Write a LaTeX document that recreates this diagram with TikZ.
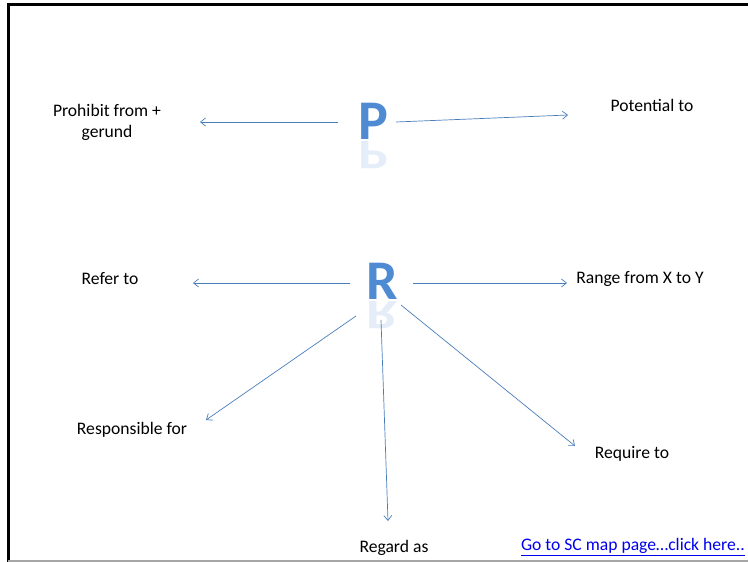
\documentclass[tikz,border=0pt]{standalone}
\usepackage{fontspec}
\setmainfont{Carlito}
\usetikzlibrary{arrows.meta}
\definecolor{arrblue}{RGB}{74,126,187}
\definecolor{letblue}{RGB}{79,139,210}
\definecolor{linkblue}{RGB}{0,0,238}
\tikzset{
  lbl/.style={font=\fontsize{17.6}{21}\selectfont, align=center, inner sep=0pt},
  bigletter/.style={font=\fontsize{56}{56}\selectfont\bfseries, text=letblue, inner sep=0pt},
  refl/.style={font=\fontsize{56}{56}\selectfont\bfseries, text=letblue, text opacity=0.15, inner sep=0pt, yscale=-0.75},
  arr/.style={draw=arrblue, line width=0.7pt, -{Straight Barb[length=5pt,width=8pt]}},
}
\begin{document}
\begin{tikzpicture}[x=1pt,y=-1pt]
\useasboundingbox (0,0) rectangle (748,562);
\fill[white] (0,0) rectangle (748,562);
% frame
\draw[black, line width=3pt] (8,562) -- (8,4) -- (748,4);
\draw[gray!70, line width=1.5pt] (8,561) -- (748,561);

% big letters
\node[bigletter, anchor=south] (P) at (373,140) {P};
\node[refl, anchor=south] (Pr) at (373,141) {P};
\node[bigletter, anchor=south] (R) at (382,300) {R};
\node[refl, anchor=south] (Rr) at (382,301) {R};

% labels
\node[lbl] (prohibit) at (107,122) {Prohibit from +\\gerund};
\node[lbl] (potential) at (652,105) {Potential to};
\node[lbl] (refer) at (110,279) {Refer to};
\node[lbl] (range) at (640,279) {Range from X to Y};
\node[lbl] (resp) at (132,430) {Responsible for};
\node[lbl] (require) at (632,454) {Require to};
\node[lbl] (regard) at (394,548) {Regard as};
\node[lbl, text=linkblue, anchor=south east] (link) at (745,556) {\underline{Go to SC map page…click here..}};

% connector ends
\coordinate (p1s) at (338,122); \coordinate (p1e) at (200,122);
\coordinate (p2s) at (396,122); \coordinate (p2e) at (568,115);
\coordinate (r1s) at (350,283); \coordinate (r1e) at (193,283);
\coordinate (r2s) at (413,283); \coordinate (r2e) at (567,283);
\coordinate (r3s) at (356,316); \coordinate (r3e) at (206,420);
\coordinate (r4s) at (381,320); \coordinate (r4e) at (388,521);
\coordinate (r5s) at (401,305); \coordinate (r5e) at (575,446);

\draw[arr] (p1s) -- (p1e);
\draw[arr] (p2s) -- (p2e);
\draw[arr] (r1s) -- (r1e);
\draw[arr] (r2s) -- (r2e);
\draw[arr] (r3s) -- (r3e);
\draw[arr] (r4s) -- (r4e);
\draw[arr] (r5s) -- (r5e);
\end{tikzpicture}
\end{document}
